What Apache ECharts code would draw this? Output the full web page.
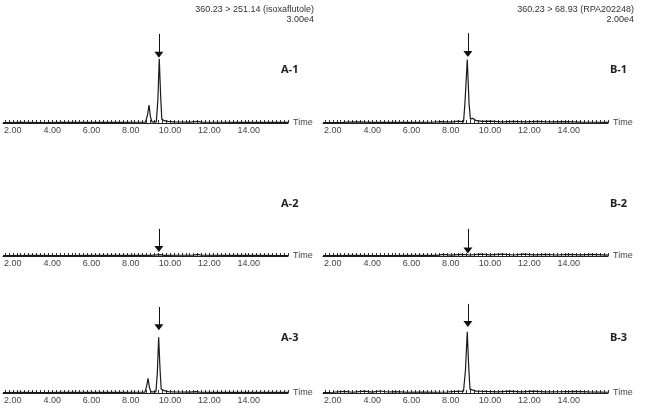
<!DOCTYPE html>
<html>
<head>
<meta charset="utf-8">
<script src="https://cdn.jsdelivr.net/npm/echarts@6/dist/echarts.min.js"></script>
<style>
  html, body { margin: 0; background: #fff; }
  #chart { width: 649px; height: 412px; }
</style>
</head>
<body>
<div id="chart"></div>
<script>
// tick labels on every time axis (minutes)
const tickLabels = [2, 4, 6, 8, 10, 12, 14]
const panelNames = ['A-1', 'B-1', 'A-2', 'B-2', 'A-3', 'B-3']
const channelNames = ['360.23 > 251.14 (isoxaflutole)', '360.23 > 68.93 (RPA202248)']
const channelScales = ['3.00e4', '2.00e4']

// chromatograms: [time (min), relative response]
const traceA1 = [[1.5, 0.5], [2.5, 0.8], [3.5, 0.6], [4.5, 0.9], [5.5, 0.7], [6.5, 0.8], [7.5, 0.9], [8.3, 1], [8.75, 1.2], [8.85, 10], [8.93, 23], [9.0, 8], [9.08, 1.5], [9.3, 1.5], [9.38, 30], [9.45, 83], [9.52, 35], [9.58, 5], [9.7, 3], [9.9, 2], [10.2, 1.5], [11.0, 1.2], [11.4, 2], [11.6, 1.2], [12.5, 1], [13.5, 0.9], [14.5, 0.8], [15.5, 0.9], [16, 0.8]]
const traceB1 = [[1.5, 0.5], [2.5, 0.8], [3.2, 1.4], [4.0, 0.8], [5.0, 0.9], [6.0, 0.8], [7.0, 1], [7.5, 1.8], [8.0, 1.2], [8.4, 2.5], [8.65, 1.5], [8.72, 25], [8.84, 82], [8.93, 25], [9.0, 5], [9.12, 6], [9.3, 3], [9.6, 2], [10.0, 2.5], [10.6, 1.5], [11.2, 2.2], [11.8, 1.4], [12.4, 2], [13.0, 1.5], [13.8, 1.8], [14.6, 1.2], [15.4, 1], [16, 0.8]]
const traceA2 = [[1.5, 0.5], [3.0, 0.7], [4.5, 0.6], [6.0, 0.8], [7.5, 0.7], [9.0, 0.9], [9.5, 1.8], [9.7, 0.9], [10.5, 1], [11.2, 1.1], [11.4, 2], [11.6, 1], [13.0, 0.8], [14.5, 0.7], [16, 0.6]]
const traceB2 = [[1.5, 0.5], [3.0, 0.7], [4.5, 0.6], [6.0, 0.8], [7.3, 0.9], [7.6, 2], [8.0, 1.2], [8.5, 2.2], [9.0, 1.3], [9.5, 2.4], [10.0, 1.4], [10.6, 2.3], [11.2, 1.3], [11.7, 2.5], [12.3, 1.4], [12.8, 2.2], [13.4, 1.3], [14.0, 2.1], [14.6, 1.4], [15.2, 2], [16, 1.2]]
const traceA3 = [[1.5, 0.5], [2.5, 0.7], [3.5, 0.6], [4.5, 0.8], [5.5, 0.7], [6.5, 0.8], [7.5, 0.9], [8.3, 1], [8.72, 1.2], [8.8, 8], [8.88, 19], [8.95, 7], [9.03, 1.5], [9.28, 1.5], [9.35, 25], [9.42, 72], [9.49, 30], [9.55, 5], [9.7, 3], [9.9, 1.8], [10.3, 1.3], [11.0, 1.2], [11.3, 1.8], [11.5, 1.1], [12.5, 0.9], [13.5, 0.8], [14.5, 0.8], [15.5, 0.9], [16, 0.7]]
const traceB3 = [[1.5, 0.6], [2.0, 1], [2.6, 2], [3.0, 1], [3.6, 2.4], [4.0, 1.2], [4.4, 2.6], [4.8, 1.3], [5.2, 1.8], [5.8, 1], [6.5, 1.2], [7.2, 1], [7.8, 1.3], [8.3, 2], [8.65, 2.5], [8.75, 30], [8.84, 79], [8.92, 30], [8.98, 5], [9.1, 4], [9.3, 2.5], [9.8, 2], [10.4, 1.5], [11.0, 2.4], [11.6, 1.4], [12.2, 2.3], [12.8, 1.4], [13.5, 1.6], [14.3, 2.2], [15.0, 1.4], [16, 1]]
const traces = [traceA1, traceB1, traceA2, traceB2, traceA3, traceB3]

// marked retention time per panel and the arrow's top / tip (response units)
const arrowTimes = [9.43, 8.87, 9.43, 8.87, 9.43, 8.87]
const arrowTops = [115, 116, 35, 35, 111, 115]
const arrowTips = [88, 89, 9, 7, 85, 89]

const rowTops = [30, 163, 300]
const colLefts = [3, 323]
const minorTicks = []
for (let t = 1.6; t < 16; t += 0.2) minorTicks.push(Math.round(t * 10) / 10)

const chart = echarts.init(document.getElementById('chart'), null, { renderer: 'canvas' })

const grid = []
const xAxis = []
const yAxis = []
const series = []
const title = []

panelNames.forEach((name, i) => {
  const row = Math.floor(i / 2)
  const col = i % 2
  grid.push({ left: colLefts[col], top: rowTops[row], width: 285, height: 93 })
  xAxis.push({
    gridIndex: i,
    type: 'value',
    min: 1.5,
    max: 16,
    name: 'Time',
    nameLocation: 'end',
    nameGap: 5,
    nameTextStyle: { fontFamily: 'Liberation Sans', fontSize: 9, color: '#444' },
    axisLine: { lineStyle: { color: '#222', width: 1 } },
    axisTick: { inside: true, length: 3, customValues: minorTicks, lineStyle: { color: '#333' } },
    axisLabel: {
      customValues: tickLabels,
      formatter: v => v.toFixed(2),
      fontFamily: 'Liberation Sans',
      fontSize: 9,
      color: '#444',
      margin: 3
    },
    splitLine: { show: false }
  })
  yAxis.push({ gridIndex: i, type: 'value', min: 0, max: 120, show: false })
  series.push({
    type: 'line',
    xAxisIndex: i,
    yAxisIndex: i,
    data: traces[i],
    showSymbol: false,
    silent: true,
    clip: false,
    lineStyle: { color: '#1a1a1a', width: 1.2 },
    markLine: {
      silent: true,
      symbol: ['none', 'triangle'],
      symbolSize: [9, 6],
      label: { show: false },
      lineStyle: { color: '#111', width: 1, type: 'solid' },
      data: [[{ coord: [arrowTimes[i], arrowTops[i]] }, { coord: [arrowTimes[i], arrowTips[i]] }]]
    }
  })
  const labelTops = [64, 198, 332]
  title.push({
    text: name,
    left: col === 0 ? 281 : 610,
    top: labelTops[row],
    padding: 0,
    textStyle: { fontFamily: 'Noto Sans', fontWeight: 'bold', fontSize: 11, color: '#222' }
  })
})

channelNames.forEach((txt, c) => {
  const right = c === 0 ? 335 : 15
  title.push({ text: txt, right: right, top: 5, padding: 0,
    textStyle: { fontFamily: 'Liberation Sans', fontWeight: 'normal', fontSize: 9, color: '#333' } })
  title.push({ text: channelScales[c], right: right, top: 15, padding: 0,
    textStyle: { fontFamily: 'Liberation Sans', fontWeight: 'normal', fontSize: 9, color: '#333' } })
})

chart.setOption({
  animation: false,
  backgroundColor: '#fff',
  title,
  grid,
  xAxis,
  yAxis,
  series
})
</script>
</body>
</html>
